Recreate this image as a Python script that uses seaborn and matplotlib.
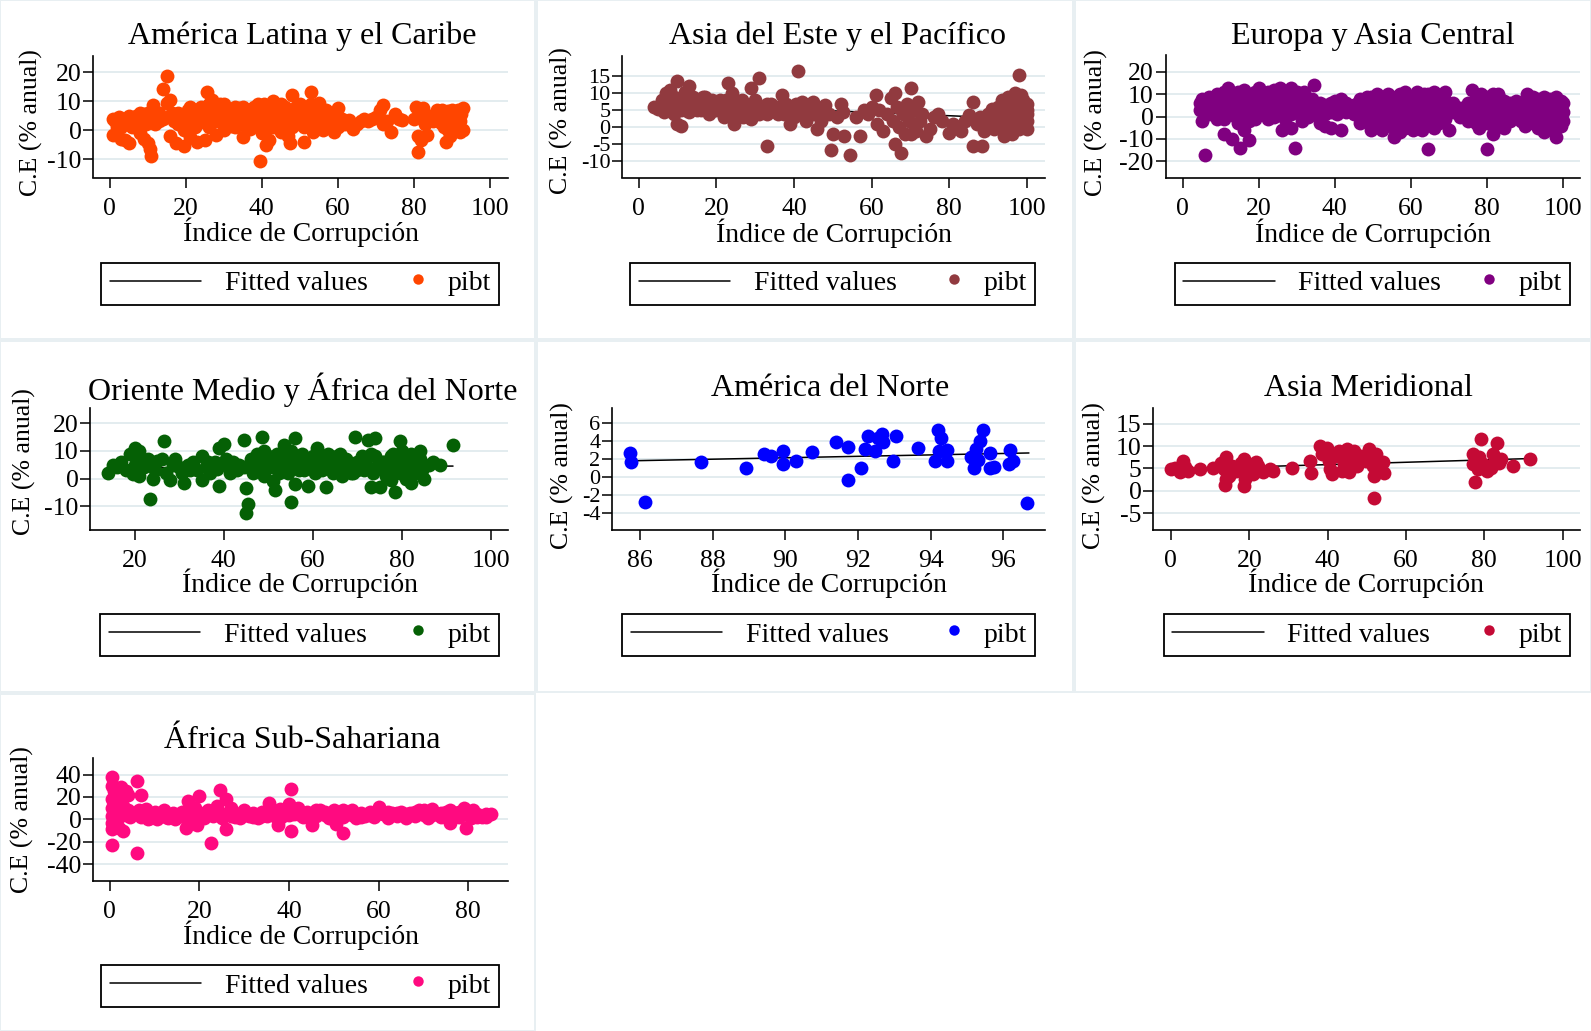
import numpy as np
import pandas as pd
import matplotlib
matplotlib.use("Agg")
import matplotlib.pyplot as plt
import seaborn as sns
from matplotlib.legend_handler import HandlerPathCollection
from matplotlib.patches import Rectangle

# ---------------- data ----------------
titles = ["América Latina y el Caribe", "Asia del Este y el Pacífico", "Europa y Asia Central",
          "Oriente Medio y África del Norte", "América del Norte", "Asia Meridional",
          "África Sub-Sahariana"]
colors = ["#FF4500", "#913A3F", "#800080", "#056005", "#0000FF", "#C40A35", "#FF0A80"]
x_label = "Índice de Corrupción"
y_label = "C.E (% anual)"
legend_labels = ["Fitted values", "pibt"]

lac_pts = [(1,-1.5),(1,4),(1.5,3),(2,1),(2.5,4.5),(3,-3),(3.5,3.5),(4,-3.5),(4,4),(5,-4.5),(5,2.5),(6,4),
           (7,5),(7,1),(8,6),(8,-1),(9,5.5),(9,-3),(9.5,2),(10,-4.5),(10,6),(10.5,-6.5),(11,-9),(11,4),
           (11.5,8.5),(12,5),(13,3),(14,14),(14,4),(15,18.5),(15,9.5),(16,10.5),(16,-2),(16.5,6),(17,3),
           (17.5,-4.5),(18,6),(18,2),(19,5),(19.5,-5.5),(19.5,0),(20,3),(20.5,7),(21,-2.5),(21,8),(22,4),
           (22.5,1),(23,-4),(23,6),(24,8),(24,3),(25,-3.5),(25,6),(25.5,13),(26,9),(26,1),(27,10.5),(27,5),
           (28,-1.5),(28,8),(29,9),(29,3),(30,6),(30,0),(31,4),(32,7),(32,1.5),(33,5),(34,7.5),(34,2),
           (35,-2.5),(35,5),(36,7),(36,3),(37,5),(37,0.5),(38,8),(38,2),(39,9),(39,4),(39.5,-10.5),(40,-1),
           (40,6),(40.5,9),(41,-5),(41,3),(42,6),(42,-3.5),(43,10),(43,1),(44,8),(44,4),(45,9),(45,-0.5),
           (46,5),(46,1.5),(47,-2),(47.5,-4.5),(48,12),(48,6),(49,2),(49,8),(50,5),(50,9),(51,-4),(51,1),
           (52,7),(52,3),(53,13),(53,9),(53.5,-0.5),(54,5),(55,9.5),(55,2),(56,7),(56,0),(57,4),(58,2),
           (59,-0.5),(59.5,3),(60,7.5),(60,1),(61,4),(62,2),(63,3.5),(64,0.5),(65,2),(66,3),(67,4),(68,3),
           (69,4),(70,4.5),(71,7),(72,8.5),(72,2),(73,3),(74,-0.5),(75,5.5),(76,4),(77,3.5),(80,4),(80.5,8),
           (81,-2),(81,-7.5),(81.5,5),(82,-3.5),(82.5,7.5),(83,2),(83.5,-1.5),(86,7),(86.5,5),(87,2.5),
           (87.5,7),(88,4),(88.5,-4),(89,0),(89,6.5),(89.5,-2),(90,7),(90,3),(91,5),(91,1),(91.5,7),
           (92,-0.5),(92,3),(92.5,5.5),(93,7.5),(93,0),
           (20,5),(21,3),(22,7),(23,2),(24,5),(26,4),(27,7),(28,3),(29,6),(30,9),(31,2),(31,7),(33,8),
           (33,1),(34,4),(35,8),(36,1),(37,7),(38,5),(40,3),(41,7),(42,1),(43,4),(44,6),(45,3),(46,8),
           (47,4),(48,1),(49,5),(50,3),(51,6),(52,5),(54,8),(54,2),(55,5),(57,7),(57,1),(58,5),(9,3),
           (6,1),(5,5),(3,1),(12,2),(13,6),(2,3),(84,5),(85,3),(88,1),(90,5),(91,3),(92,6)]
lac_fit_x = [1, 93]
lac_fit_y = [3.4, 3.8]

eap_pts = [(4,6),(5,5.5),(6,8),(6.5,4.5),(7,10),(7.5,7),(8,11),(8,5),(9,9),(9.5,6.5),(10,13.5),(10,1),
           (10.5,8),(11,0.5),(11,5),(12,10.5),(12.5,7),(13,12),(13,4.5),(14,9),(14.5,6),(15,8),(16,5),
           (16.5,9),(17,7),(18,6),(19,8),(19.5,5),(20,7),(21,5.5),(22,6),(22.5,8),(23,13),(23.5,4.5),
           (24,10),(24.5,1),(25,7),(26,5),(26.5,8),(27,3),(28,6),(28.5,4),(29,11.5),(29,2.5),(30,8),
           (30.5,5),(31,14.5),(32,6),(33,-5.5),(33,4),(34,7),(35,5),(36,6),(37,9.5),(37.5,4),(38,7),
           (39,1),(39,5),(40,3),(40.5,7),(41,16.5),(41.5,5),(42,7.5),(43,2),(43,5.5),(44,7),(44.5,4),
           (45,7.5),(46,-0.5),(46.5,5),(47,2),(48,6.5),(49,4),(49.5,-6.5),(50,-2),(51,3),(52,7),(52.5,4.5),
           (53,-2.5),(54.5,-8),(56,3),(57,-2.5),(58,5),(59,4),(60,6),(61,9.5),(61.5,1),(62,5),(63,-1),
           (64,4),(65,8.5),(65.5,2),(66,10),(66,-5),(66.5,6),(67,0),(67.5,-7.5),(68,4),(68.5,-2),(69,7),
           (69.5,2),(70,11.5),(70,-2),(71,5),(71.5,-1),(72,7.5),(72.5,2),(73,4),(74,-2.5),(75,-0.5),(76,3),
           (77,4),(78,2),(80,-1.5),(81,1),(82,0),(83,-1),(84,2),(85,3.5),(86,7.5),(86,-5.5),(87,1),(88,3),
           (88.5,-5.5),(89,-1),(90,4),(90.5,1),(91,5.5),(91.5,-0.5),(92,2.5),(92.5,6),(93,4),(93.5,8),
           (94,-2.5),(94,1),(94.5,6),(95,9),(95,3),(95.5,-1),(96,5),(96,-2),(96.5,7.5),(97,2),(97,10),
           (97.5,4),(98,15.5),(98,-0.5),(98,6),(98.5,9.5),(99,3),(99,0),(99.5,5),(100,2),(100,4),
           (100,-0.5),(100,7),
           (6,6),(8,8),(9,4),(11,7),(12,5),(14,7),(15,5),(17,9),(18,4),(20,5),(21,8),(22,3),(24,6),(25,4),
           (27,6),(30,6),(31,4),(33,7),(34,5),(36,4),(38,5),(40,5),(42,4),(44,6),(45,4),(91,3),(92,4),
           (93,1),(94,4),(95,6),(96,1),(97,6),(98,2),(99,8),(100,5)]
eap_fit_x = [4, 100]
eap_fit_y = [7.06, 2.46]

eca_cols = [(4.5,[6,3]),(5,[-2,8]),(6,[-17]),(7,[5,9,1]),(9,[10,6,2,-1]),(11,[11,7,3,-1,-8]),(12,[13]),
            (13,[9,5,1,-10]),(14.5,[11,6,2,-3]),(15,[-14]),(16,[8,4,0,-6,12]),(17.5,[10,6,2,-2,-10.5]),
            (19,[11,7,3,-1]),(20,[13]),(21,[9,5,1]),(22.5,[11,7,3,-1]),(24,[12,8,4,0]),(25.5,[13,9,5,1]),
            (26,[-6]),(27,[11,7,3,-1]),(28.5,[13,9,5,1,-5]),(29.5,[-14]),(30,[11,7,3]),(31.5,[9,5,1,-2]),
            (33,[7,3,0]),(34.5,[14,5,1]),(36,[6,2,-3]),(37.5,[5,1,-4]),(39,[6,2,-5]),(40.5,[5,1]),
            (41.5,[8,-6]),(43,[6,2]),(45,[5,1]),(46.5,[8,3,-3]),(48,[6,2,-1]),(49.5,[9,5,1,-3,-6]),
            (51,[10,6,2,-2]),(52.5,[8,4,0,-6]),(54,[10,6,2,-2]),(55.5,[8,4,0,-5,-9]),(57,[10,6,2,-2,-7]),
            (58.5,[11,7,3,-1,-5]),(60,[9,5,1,-3]),(61.5,[11,7,3,-1,-5]),(63,[8,4,0,-6]),
            (64.5,[10,6,2,-2,-14.5]),(66,[11,7,3,-1,-5]),(67.5,[9,5,1,-3]),(69,[11,7,3,-1]),(70,[-6]),
            (71,[6,2]),(73,[4,0]),(75,[6,2,-2]),(76,[12]),(77,[8,4,0,-3]),(78.5,[10,6,2,-2]),
            (80,[9,5,1,-3,-14.5]),(81.5,[10,6,2,-2,-8]),(83,[10,5,1,-4]),(84.5,[7,3,-1,-5]),(86,[6,2,-2]),
            (87.5,[7,3,0]),(89,[5,1,-2]),(90.5,[10,6,2,-2]),(92,[9,5,1,-3]),(93.5,[8,4,0,-5]),
            (95,[9,5,1,-3,-7]),(96.5,[8,4,0,-5]),(98,[9,5,1,-3,-9]),(99.5,[7,3,0,-4]),(100,[6,2]),
            (5.5,[4]),(8,[7]),(10,[4]),(12,[8]),(14,[0]),(15.5,[9]),(18,[4]),(20,[1,9]),(23,[5]),
            (23.5,[9]),(26,[3]),(27.5,[5]),(29,[9]),(31,[4]),(32,[11]),(34,[8]),(35.5,[4]),(38,[3]),
            (40,[7]),(42,[3]),(44,[4]),(46,[6]),(48.5,[9]),(50,[-1]),(52,[6]),(53,[-3]),(55,[2]),(56,[9]),
            (58,[0]),(59,[8]),(60.5,[-6]),(62,[5]),(63.5,[10]),(65,[4]),(66.5,[-3]),(68,[6]),(70,[3]),
            (72,[4]),(74,[2]),(76,[4]),(78,[-5]),(79,[7]),(80.5,[3]),(82,[-4]),(83.5,[8]),(85,[1]),
            (86.5,[5]),(88,[4]),(90,[-4]),(91,[8]),(92.5,[2]),(94,[6]),(95.5,[-5]),(97,[2]),(97.5,[7]),
            (99,[5]),(100,[-2])]
eca_pts = [(x, y) for x, ys in eca_cols for y in ys]
eca_fit_x = [4, 100]
eca_fit_y = [4.0, 2.8]

mena_pts = [(14,2),(15,5),(16,4),(17,6),(18,3),(19,9),(19.5,1.5),(20,11),(20,5),(21,10),(21,1),(21.5,7),
            (22,4),(22.5,6),(23,7),(23.5,-7.5),(24,0),(24.5,3),(25,6.5),(26,7),(26.5,13.5),(27,2),
            (28,-0.5),(28.5,5),(29,7),(30,4),(30.5,2),(31,-1.5),(32,5),(32.5,3),(33,6),(34,3),(35,8),
            (35,-0.5),(36,4),(36.5,6),(37,2),(38,6),(38.5,3.5),(39,-2.5),(39,11),(40,12.5),(40.5,7),
            (41,5),(41.5,2),(42,6),(43,3),(43.5,5),(44.5,14),(44.5,4),(45,-3.5),(45,-12.5),(45.5,-9),
            (46,7),(46.5,2),(47,5),(47.5,9),(48,3),(48.5,15),(49,10),(49,1),(49.5,6),(50,8),(50.5,4),
            (51,-1),(51.5,-4),(52,6),(52.5,2),(53,4),(53.5,12),(54,8),(54.5,2),(55,-8.5),(55,10),(55.5,5),
            (56,14.5),(56,-2),(56.5,7),(57,3),(57.5,9),(58,3),(58.5,5),(59,-2.5),(59.5,7),(60,5),(60.5,2),
            (61,11),(61.5,6),(62,8),(62,3),(63,-3),(63,5),(63.5,9),(64,7),(64.5,2),(65,3),(65.5,8),(66,6),
            (66.5,1),(67,4),(67.5,7),(68,4),(68.5,2),(69,2),(69.5,15),(70,6),(71,8),(71.5,3),(72,5),
            (72.5,14),(73,-3),(73,9),(73.5,2),(74,14.5),(74,8),(74.5,4),(75,-3),(75.5,6),(76,6),(76.5,1),
            (77,3),(77.5,-0.5),(77.5,8),(78,9),(78.5,-5),(78.5,4),(79,6),(79.5,13.5),(79.5,2),(80,3),
            (80,10),(81,0),(81,7),(81.5,4),(82,-1.5),(82.5,6),(83,5),(83,2),(84,10),(84,7),(84.5,3),
            (85,0),(86,5),(87,6),(88.5,5),(91.5,12),
            (47,3),(50,6),(52,9),(54,5),(57,5),(60,8),(62,6),(64,4),(66,9),(68,6),(70,3),(72,7),(76,3),
            (80,6),(82,9),(84,5)]
mena_fit_x = [14, 91.5]
mena_fit_y = [3.8, 4.5]

na_pts = [(85.72,2.68),(85.77,1.66),(86.14,-2.79),(87.67,1.66),(88.93,0.98),(89.41,2.6),(89.6,2.3),
          (89.93,2.94),(89.93,1.43),(90.3,1.81),(90.74,2.79),(91.4,3.89),(91.72,3.32),(91.72,-0.26),
          (92.07,0.98),(92.19,3.17),(92.28,4.53),(92.47,2.94),(92.56,4.3),(92.65,4.75),(92.7,3.89),
          (92.95,1.81),(93.05,4.57),(93.66,3.25),(94.12,1.81),(94.2,5.21),(94.28,4.3),(94.23,2.87),
          (94.45,3.06),(94.45,1.81),(95.1,2.19),(95.19,0.98),(95.24,3.17),(95.35,4.0),(95.44,5.21),
          (95.3,1.92),(95.63,2.68),(95.63,1.06),(95.74,1.17),(96.14,1.43),(96.17,3.06),(96.26,1.74),
          (96.65,-2.9)]
na_fit_x = [85.7, 96.7]
na_fit_y = [1.81, 2.68]

sa_pts = [(0,4.9),(1,5),(2.3,4.1),(3.6,5.4),(3.2,6.7),(4.3,4.5),(7.5,4.9),(10.7,5.2),(12.9,6.3),(14,7.6),
          (13.5,4.9),(14,2.6),(13.8,1.3),(14.8,3.4),(15.7,5.6),(16.6,4.5),(17.9,6.3),(18.7,7.2),(18.7,1),
          (19,2.6),(19.6,4.5),(20,6),(20.9,3.7),(21.6,6.5),(22.2,5.6),(23.5,4.1),(25.2,4.9),(26.1,4.5),
          (30.8,5.2),(35.4,6.7),(35.7,4),(38.1,10.1),(38.6,8.2),(39.9,9.5),(40.3,6.7),(40.7,4.9),
          (41.2,3.7),(42,7.8),(42.9,9),(43.7,4.5),(44.2,6),(44.6,7.8),(45,9.3),(45.5,4.1),(45.9,6.3),
          (46.8,9),(47.2,7.5),(47.6,5.6),(48.5,7.8),(49.8,6.7),(50.6,9.3),(51.1,7.5),(51.5,5.6),(51.8,3.4),
          (51.8,-1.7),(52.4,8.2),(53.2,4.9),(54.1,6.5),(54.5,4),(77,8.2),(77.2,6),(77.7,2),(78.3,4.9),
          (78.7,7.5),(79.1,11.6),(79.6,6),(80.8,4.5),(81.7,5.2),(82.1,8.2),(82.6,6.7),(83.3,10.7),
          (83.7,6.2),(84.3,7.1),(87.3,5.6),(91.6,7.1)]
sa_fit_x = [0, 91.6]
sa_fit_y = [4.8, 7.2]

ssa_pts = [(0.5,38),(0.5,30),(0.5,18),(0.5,10),(0.5,3),(0.5,-3),(0.5,-9),(0.5,-23),(1,25),(1,14),(1,6),
           (1,0),(1.5,28),(1.5,20),(1.5,8),(2,-8),(2,15),(2,2),(2.5,29),(2.5,10),(2.5,5),(3,-10),(3,24),
           (3,12),(3.5,25),(3.5,4),(4,22),(4,8),(4.5,2),(5,6),(6,34),(6,-30),(6.5,8),(7,22),(7,2),(8,5),
           (8.5,0),(9,1),(9.5,5),(10,7),(10.5,0),(11,3),(11.5,6),(12,8),(12.5,2),(13,1),(13.5,4),(14,6),
           (14.5,0),(15,3),(15.5,5),(16,7),(16.5,2),(17,-8),(17.5,16),(18,2),(19,10),(19.5,-5),(20,21),
           (20,5),(21,1),(22,8),(22.5,-21),(23,3),(24,12),(24.5,26),(25,5),(26,-9),(26,18),(27,3),(27,10),
           (28,6),(29,1),(30,8),(31,3),(32,6),(33,1),(34,7),(35,3),(35.5,15),(36,6),(37,2),(37.5,-5),
           (38,9),(39,4),(40,14),(40.5,27),(40.5,-10),(41,5),(42,10),(43,2),(44,7),(45,-5),(46,3),(47,8),
           (48,4),(49,1),(50,8),(50.5,-4),(51,5),(52,-12),(52,2),(53,7),(54,4),(55,1),(56,6),(57,3),
           (58,7),(59,2),(60,11),(61,5),(62,1),(63,6),(64,3),(65,7),(66,1),(67,6),(68,3),(69,8),(70,4),
           (71,1),(72,9),(73,5),(74,2),(75,7),(76,-3),(76,4),(77,6),(78,2),(79,10),(79.5,-8),(80,4),
           (80.5,1),(81,8),(82,5),(83,2),(84,5),(85,5),
           (8,9),(10,3),(12,5),(14,2),(16,4),(18,6),(21,6),(23,7),(25,1),(28,2),(30,4),(32,2),(34,3),
           (36,9),(38,1),(40,4),(42,5),(44,3),(46,8),(48,7),(50,3),(52,8),(54,8),(56,2),(58,4),(60,6),
           (62,7),(64,6),(66,5),(68,7),(70,8),(72,4),(74,6),(76,8),(78,7),(80,7),(82,2),(84,2)]
ssa_fit_x = [0.5, 85]
ssa_fit_y = [5.0, 3.8]

ticks_0_100 = [0, 20, 40, 60, 80, 100]
ticks_20_100 = [20, 40, 60, 80, 100]
ticks_0_80 = [0, 20, 40, 60, 80]
ticks_86_96 = [86, 88, 90, 92, 94, 96]
yt_lac = [-10, 0, 10, 20]
yt_eap = [-10, -5, 0, 5, 10, 15]
yt_eca = [-20, -10, 0, 10, 20]
yt_mena = [-10, 0, 10, 20]
yt_na = [-4, -2, 0, 2, 4, 6]
yt_sa = [-5, 0, 5, 10, 15]
yt_ssa = [-40, -20, 0, 20, 40]

# ---------------- layout (pixels) ----------------
W, H = 1591, 1031
BIG, SMALL = 18.5, 16
panels = [
    dict(pts=lac_pts, fx=lac_fit_x, fy=lac_fit_y, ax=(93.3, 55.8, 508.2, 177.5), xlim=(-4.3, 104.8),
         ylim=(-16.3, 25.6), xt=ticks_0_100, yt=yt_lac, yfs=BIG, tt=(302.3, 36.5), xl=(301.2, 232.0),
         yl=(31.4, 122.7), leg=(101.4, 260.0, 499.0, 307.5)),
    dict(pts=eap_pts, fx=eap_fit_x, fy=eap_fit_y, ax=(622.3, 55.8, 1045.3, 177.5), xlim=(-4.2, 104.7),
         ylim=(-14.7, 21.0), xt=ticks_0_100, yt=yt_eap, yfs=SMALL, tt=(837.3, 36.5), xl=(834.3, 233.0),
         yl=(561.4, 120.7), leg=(630.4, 260.0, 1035.1, 307.5)),
    dict(pts=eca_pts, fx=eca_fit_x, fy=eca_fit_y, ax=(1165.5, 54.8, 1580.3, 177.5), xlim=(-4.5, 104.5),
         ylim=(-27.3, 27.7), xt=ticks_0_100, yt=yt_eca, yfs=BIG, tt=(1372.4, 36.5), xl=(1373.4, 233.0),
         yl=(1096.5, 122.7), leg=(1174.6, 260.0, 1570.2, 307.5)),
    dict(pts=mena_pts, fx=mena_fit_x, fy=mena_fit_y, ax=(90.3, 408.0, 508.2, 529.7), xlim=(10.0, 103.9),
         ylim=(-18.4, 25.4), xt=ticks_20_100, yt=yt_mena, yfs=BIG, tt=(302.3, 389.7), xl=(300.2, 583.0),
         yl=(24.9, 461.7), leg=(100.4, 611.0, 499.0, 659.5)),
    dict(pts=na_pts, fx=na_fit_x, fy=na_fit_y, ax=(612.2, 408.0, 1045.3, 529.7), xlim=(85.24, 97.15),
         ylim=(-5.8, 7.65), xt=ticks_86_96, yt=yt_na, yfs=SMALL, tt=(830.2, 388.6), xl=(829.2, 583.0),
         yl=(562.5, 475.9), leg=(622.3, 611.0, 1035.1, 659.5)),
    dict(pts=sa_pts, fx=sa_fit_x, fy=sa_fit_y, ax=(1153.3, 408.0, 1580.3, 529.7), xlim=(-4.5, 104.5),
         ylim=(-8.7, 18.5), xt=ticks_0_100, yt=yt_sa, yfs=BIG, tt=(1368.4, 388.6), xl=(1366.4, 583.0),
         yl=(1094.5, 475.9), leg=(1163.5, 611.0, 1570.2, 659.5)),
    dict(pts=ssa_pts, fx=ssa_fit_x, fy=ssa_fit_y, ax=(93.3, 758.0, 508.2, 880.8), xlim=(-3.7, 88.9),
         ylim=(-54.8, 54.8), xt=ticks_0_80, yt=yt_ssa, yfs=BIG, tt=(302.3, 740.7), xl=(301.2, 935.0),
         yl=(22.8, 819.9), leg=(101.4, 962.0, 499.0, 1010.5)),
]
cells = [(0, 0, 535, 339), (537, 0, 1073, 339), (1075, 0, 1591, 339),
         (0, 341, 535, 692), (537, 341, 1073, 692), (1075, 341, 1591, 692),
         (0, 694, 535, 1031)]

sns.set_style("white")
plt.rcParams["font.family"] = ["Liberation Serif", "DejaVu Serif"]
plt.rcParams["axes.unicode_minus"] = False
for k in ["text.color", "axes.labelcolor", "xtick.color", "ytick.color"]:
    plt.rcParams[k] = "black"

GRID = "#e3ecef"
CELL = "#e8eff2"


class RightDot(HandlerPathCollection):
    def get_xdata(self, legend, xdescent, ydescent, width, height, fontsize):
        xm = -xdescent + width - 0.2 * fontsize
        return [xm], [xm]


fig = plt.figure(figsize=(W / 100, H / 100), dpi=100)
fig.patch.set_facecolor("white")

for (c0, r0, c1, r1) in cells:
    fig.add_artist(Rectangle((c0 / W, 1 - r1 / H), (c1 - c0) / W, (r1 - r0) / H,
                             transform=fig.transFigure, fill=False, ec=CELL, lw=1.4))

for i, p in enumerate(panels):
    x0, y0, x1, y1 = p["ax"]
    aw, ah = x1 - x0, y1 - y0
    ax = fig.add_axes([x0 / W, 1 - y1 / H, aw / W, ah / H])
    df = pd.DataFrame(p["pts"], columns=["x", "y"])
    fit = pd.DataFrame({"x": p["fx"], "y": p["fy"]})
    sns.lineplot(data=fit, x="x", y="y", ax=ax, color="black", lw=1.1, label=legend_labels[0], zorder=1)
    sns.scatterplot(data=df, x="x", y="y", ax=ax, color=colors[i], s=100, linewidth=0,
                    label=legend_labels[1], zorder=2)
    if ax.get_legend() is not None:
        ax.get_legend().remove()
    ax.set_xlim(*p["xlim"])
    ax.set_ylim(*p["ylim"])
    ax.set_xticks(p["xt"])
    ax.set_yticks(p["yt"])
    ax.spines[["top", "right"]].set_visible(False)
    for s in ["left", "bottom"]:
        ax.spines[s].set_linewidth(1.2)
        ax.spines[s].set_color("black")
    ax.yaxis.grid(True, color=GRID, lw=1.4)
    ax.xaxis.grid(False)
    ax.set_axisbelow(True)
    ax.tick_params(axis="both", direction="out", length=7, width=1.1, color="black", left=True, bottom=True)
    ax.tick_params(axis="x", labelsize=BIG, pad=7.5)
    ax.tick_params(axis="y", labelsize=p["yfs"], pad=1.5)
    # titles and labels
    ax.set_title(titles[i], fontsize=23, x=(p["tt"][0] - x0) / aw, y=(y1 - p["tt"][1]) / ah,
                 va="center", pad=0)
    ax.set_xlabel(x_label, fontsize=20, va="center")
    ax.xaxis.set_label_coords((p["xl"][0] - x0) / aw, (y1 - p["xl"][1]) / ah)
    ax.set_ylabel(y_label, fontsize=18.5, va="center")
    ax.yaxis.set_label_coords((p["yl"][0] - x0) / aw, (y1 - p["yl"][1]) / ah)
    # legend below
    handles, labels = ax.get_legend_handles_labels()
    lx0, ly0, lx1, ly1 = p["leg"]
    leg = fig.legend(handles=handles, labels=labels, loc="center",
                     bbox_to_anchor=(lx0 / W, 1 - ly1 / H, (lx1 - lx0) / W, (ly1 - ly0) / H),
                     mode="expand", ncol=2, borderaxespad=0, fontsize=20, frameon=True,
                     fancybox=False, edgecolor="black", framealpha=1, borderpad=0.3,
                     handlelength=3.3, handletextpad=0.86, columnspacing=0.5, markerscale=0.75,
                     scatterpoints=1, scatteryoffsets=[0.6],
                     handler_map={handles[1]: RightDot()})
    leg.get_frame().set_linewidth(1.3)

fig.savefig("out.png", dpi=100, facecolor="white")
